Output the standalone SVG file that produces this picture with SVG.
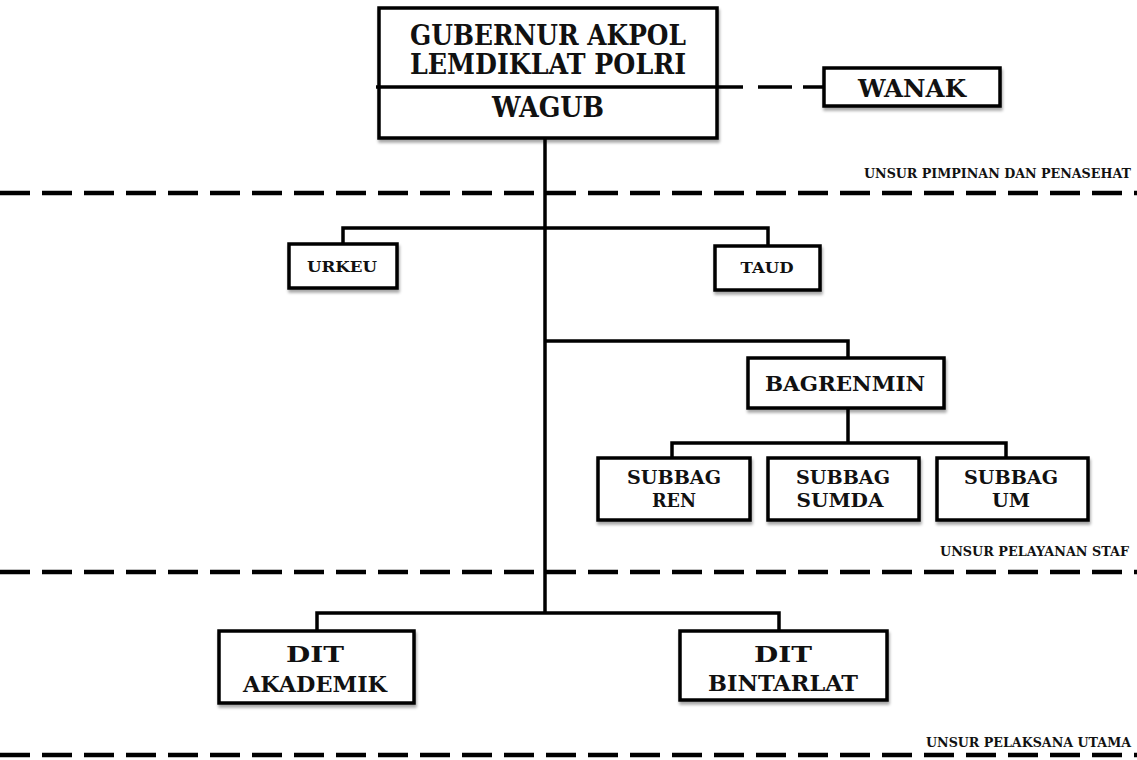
<svg xmlns="http://www.w3.org/2000/svg" width="1137" height="760" viewBox="0 0 1137 760">
<defs>
<filter id="sh" x="-10%" y="-10%" width="130%" height="140%">
<feGaussianBlur in="SourceAlpha" stdDeviation="1.5"/>
<feOffset dx="1" dy="3" result="b"/>
<feComponentTransfer><feFuncA type="linear" slope="0.35"/></feComponentTransfer>
<feMerge><feMergeNode/><feMergeNode in="SourceGraphic"/></feMerge>
</filter>
</defs>
<style>
.box{fill:#fff;stroke:#000;stroke-width:3.5;filter:url(#sh)}
.t{font-family:"DejaVu Serif","Liberation Serif",serif;font-weight:bold;fill:#111;text-anchor:middle}
.lab{font-family:"DejaVu Serif","Liberation Serif",serif;font-weight:bold;fill:#111;text-anchor:end;font-size:12px}
.ln{fill:none;stroke:#000;stroke-width:3.5}
.sep{fill:none;stroke:#000;stroke-width:4.5;stroke-dasharray:30 12}
</style>
<rect width="1137" height="760" fill="#fff"/>
<g id="connectors">
<line class="ln" x1="545" y1="138" x2="545" y2="613"/>
<path class="ln" d="M343 244 V228 H768 V246"/>
<path class="ln" d="M545 341 H848 V358"/>
<path class="ln" d="M848 408 V443"/>
<path class="ln" d="M672 458 V443 H1006 V458"/>
<path class="ln" d="M317 631 V613 H779 V631"/>
<path class="ln" d="M717 87 H743" />
<path class="ln" d="M758 87 H792 M803 87 H824"/>
</g>
<g id="separators">
<line class="sep" x1="0" y1="193" x2="1137" y2="193"/>
<line class="sep" x1="0" y1="572" x2="1137" y2="572"/>
<line class="sep" x1="0" y1="755" x2="1137" y2="755"/>
<text class="lab" x="1131" y="178" textLength="267" lengthAdjust="spacingAndGlyphs">UNSUR PIMPINAN DAN PENASEHAT</text>
<text class="lab" x="1129" y="556" textLength="189" lengthAdjust="spacingAndGlyphs">UNSUR PELAYANAN STAF</text>
<text class="lab" x="1131" y="747" textLength="205" lengthAdjust="spacingAndGlyphs">UNSUR PELAKSANA UTAMA</text>
</g>
<g id="gubernur">
<rect class="box" x="379" y="8" width="338" height="130"/>
<line class="ln" x1="376" y1="87" x2="717" y2="87"/>
<text class="t" x="548" y="45" font-size="27" textLength="276" lengthAdjust="spacingAndGlyphs">GUBERNUR AKPOL</text>
<text class="t" x="548" y="74" font-size="27" textLength="276" lengthAdjust="spacingAndGlyphs">LEMDIKLAT POLRI</text>
<text class="t" x="548" y="117" font-size="27" textLength="112" lengthAdjust="spacingAndGlyphs">WAGUB</text>
</g>
<g id="wanak">
<rect class="box" x="824" y="68" width="176" height="38"/>
<text class="t" x="912" y="97" font-size="24" textLength="108" lengthAdjust="spacingAndGlyphs">WANAK</text>
</g>
<g id="urkeu">
<rect class="box" x="289" y="244" width="108" height="44"/>
<text class="t" x="342" y="272" font-size="15" textLength="70" lengthAdjust="spacingAndGlyphs">URKEU</text>
</g>
<g id="taud">
<rect class="box" x="715" y="246" width="105" height="44"/>
<text class="t" x="767" y="273" font-size="15" textLength="53" lengthAdjust="spacingAndGlyphs">TAUD</text>
</g>
<g id="bagrenmin">
<rect class="box" x="748" y="358" width="196" height="50"/>
<text class="t" x="845" y="391" font-size="21" textLength="160" lengthAdjust="spacingAndGlyphs">BAGRENMIN</text>
</g>
<g id="subbag-ren">
<rect class="box" x="598" y="458" width="152" height="62"/>
<text class="t" x="674" y="484" font-size="19" textLength="94" lengthAdjust="spacingAndGlyphs">SUBBAG</text>
<text class="t" x="674" y="507" font-size="19" textLength="44" lengthAdjust="spacingAndGlyphs">REN</text>
</g>
<g id="subbag-sumda">
<rect class="box" x="768" y="458" width="151" height="62"/>
<text class="t" x="843" y="484" font-size="19" textLength="94" lengthAdjust="spacingAndGlyphs">SUBBAG</text>
<text class="t" x="840" y="507" font-size="19" textLength="87" lengthAdjust="spacingAndGlyphs">SUMDA</text>
</g>
<g id="subbag-um">
<rect class="box" x="937" y="458" width="151" height="62"/>
<text class="t" x="1011" y="484" font-size="19" textLength="94" lengthAdjust="spacingAndGlyphs">SUBBAG</text>
<text class="t" x="1011" y="507" font-size="19" textLength="38" lengthAdjust="spacingAndGlyphs">UM</text>
</g>
<g id="dit-akademik">
<rect class="box" x="219" y="631" width="195" height="72"/>
<text class="t" x="315" y="662" font-size="23" textLength="58" lengthAdjust="spacingAndGlyphs">DIT</text>
<text class="t" x="315" y="692" font-size="23" textLength="144" lengthAdjust="spacingAndGlyphs">AKADEMIK</text>
</g>
<g id="dit-bintarlat">
<rect class="box" x="680" y="631" width="207" height="69"/>
<text class="t" x="783" y="662" font-size="23" textLength="58" lengthAdjust="spacingAndGlyphs">DIT</text>
<text class="t" x="783" y="691" font-size="23" textLength="150" lengthAdjust="spacingAndGlyphs">BINTARLAT</text>
</g>
</svg>
